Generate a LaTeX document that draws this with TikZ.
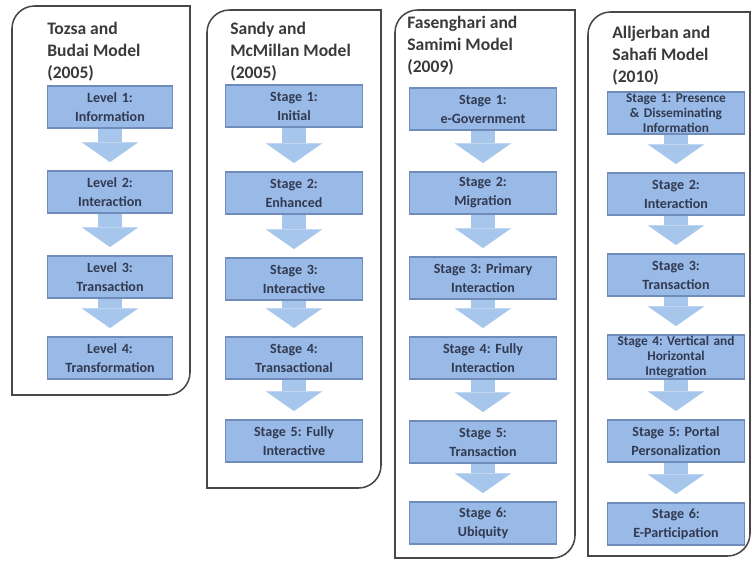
\documentclass[tikz,border=0pt]{standalone}
\usepackage{fontspec}
\setmainfont{Carlito}
\frenchspacing
\usetikzlibrary{arrows.meta}
\definecolor{stagefill}{RGB}{153,186,230}
\definecolor{stageline}{RGB}{112,140,186}
\definecolor{stagetext}{RGB}{50,58,82}
\definecolor{flow}{RGB}{166,198,236}
\definecolor{panelline}{RGB}{72,72,72}
\definecolor{titletext}{RGB}{58,58,58}

\begin{document}
\begin{tikzpicture}[
  x=0.025cm, y=-0.025cm,
  panel/.style={draw=panelline, line width=1.1pt},
  title/.style={anchor=north west, align=left, inner sep=0pt, text=titletext,
    font=\fontsize{12.5}{15.5}\selectfont\bfseries},
  stagebox/.style={draw=stageline, fill=stagefill, line width=0.8pt, text=stagetext,
    align=center, inner sep=1pt, minimum height=1.05cm,
    font=\fontsize{10}{13.5}\selectfont\bfseries},
  tight/.style={font=\fontsize{9.5}{10.5}\selectfont\bfseries},
  tbbox/.style={stagebox, text width=3.05cm},
  smbox/.style={stagebox, text width=3.35cm},
  fsbox/.style={stagebox, text width=3.6cm},
  asbox/.style={stagebox, text width=3.35cm},
  flowarrow/.style={draw=flow, line width=17pt, shorten >=6pt,
    -{Triangle[width=40pt, length=14pt, line width=0.01pt]}},
]
\useasboundingbox (0,0) rectangle (752,562);

\draw[panel] (12,200) {[rounded corners=16pt] -- (12,6) -- (100,6)} -- (190,6) -- (190,200)
  {[rounded corners=16pt] -- (190,395) -- (100,395)} -- (12,395) -- cycle;
\draw[panel] (207,250) {[rounded corners=16pt] -- (207,10) -- (290,10)} -- (381,10) -- (381,250)
  {[rounded corners=16pt] -- (381,488) -- (290,488)} -- (207,488) -- cycle;
\draw[panel] (395,280) {[rounded corners=16pt] -- (395,10) -- (485,10)} -- (575,10) -- (575,280)
  {[rounded corners=16pt] -- (575,558) -- (485,558)} -- (395,558) -- cycle;
\draw[panel] (588,280) {[rounded corners=16pt] -- (588,12) -- (670,12)} -- (750,12) -- (750,280)
  {[rounded corners=16pt] -- (750,556) -- (670,556)} -- (588,556) -- cycle;

\node[title] (tbtitle) at (47,22) {Tozsa and\\Budai Model\\(2005)};
\node[title] (smtitle) at (230,22) {Sandy and\\McMillan Model\\(2005)};
\node[title] (fstitle) at (407,16) {Fasenghari and\\Samimi Model\\(2009)};
\node[title] (astitle) at (612,26) {Alljerban and\\Sahafi Model\\(2010)};

\node[tbbox] (tb1) at (110,107) {Level 1:\\Information};
\node[tbbox] (tb2) at (110,192) {Level 2:\\Interaction};
\node[tbbox] (tb3) at (110,277) {Level 3:\\Transaction};
\node[tbbox] (tb4) at (110,358) {Level 4:\\Transformation};

\node[smbox] (sm1) at (294,106) {Stage 1:\\Initial};
\node[smbox] (sm2) at (294,193) {Stage 2:\\Enhanced};
\node[smbox] (sm3) at (294,279) {Stage 3:\\Interactive};
\node[smbox] (sm4) at (294,358) {Stage 4:\\Transactional};
\node[smbox] (sm5) at (294,441) {Stage 5: Fully\\Interactive};

\node[fsbox] (fs1) at (483,109) {Stage 1:\\e-Government};
\node[fsbox] (fs2) at (483,193) {Stage 2:\\Migration};
\node[fsbox] (fs3) at (483,278) {Stage 3: Primary\\Interaction};
\node[fsbox] (fs4) at (483,358) {Stage 4: Fully\\Interaction};
\node[fsbox] (fs5) at (483,442) {Stage 5:\\Transaction};
\node[fsbox] (fs6) at (483,523) {Stage 6:\\Ubiquity};

\node[asbox, tight] (as1) at (676,113) {Stage 1: Presence\\\& Disseminating\\Information};
\node[asbox] (as2) at (676,194) {Stage 2:\\Interaction};
\node[asbox] (as3) at (676,275) {Stage 3:\\Transaction};
\node[asbox, tight] (as4) at (676,357) {Stage 4: Vertical and\\Horizontal\\Integration};
\node[asbox] (as5) at (676,441) {Stage 5: Portal\\Personalization};
\node[asbox] (as6) at (676,524) {Stage 6:\\E-Participation};

\draw[flowarrow] (tb1.south) -- (tb2.north);
\draw[flowarrow] (tb2.south) -- (tb3.north);
\draw[flowarrow] (tb3.south) -- (tb4.north);

\draw[flowarrow] (sm1.south) -- (sm2.north);
\draw[flowarrow] (sm2.south) -- (sm3.north);
\draw[flowarrow] (sm3.south) -- (sm4.north);
\draw[flowarrow] (sm4.south) -- (sm5.north);

\draw[flowarrow] (fs1.south) -- (fs2.north);
\draw[flowarrow] (fs2.south) -- (fs3.north);
\draw[flowarrow] (fs3.south) -- (fs4.north);
\draw[flowarrow] (fs4.south) -- (fs5.north);
\draw[flowarrow] (fs5.south) -- (fs6.north);

\draw[flowarrow] (as1.south) -- (as2.north);
\draw[flowarrow] (as2.south) -- (as3.north);
\draw[flowarrow] (as3.south) -- (as4.north);
\draw[flowarrow] (as4.south) -- (as5.north);
\draw[flowarrow] (as5.south) -- (as6.north);

\end{tikzpicture}
\end{document}
